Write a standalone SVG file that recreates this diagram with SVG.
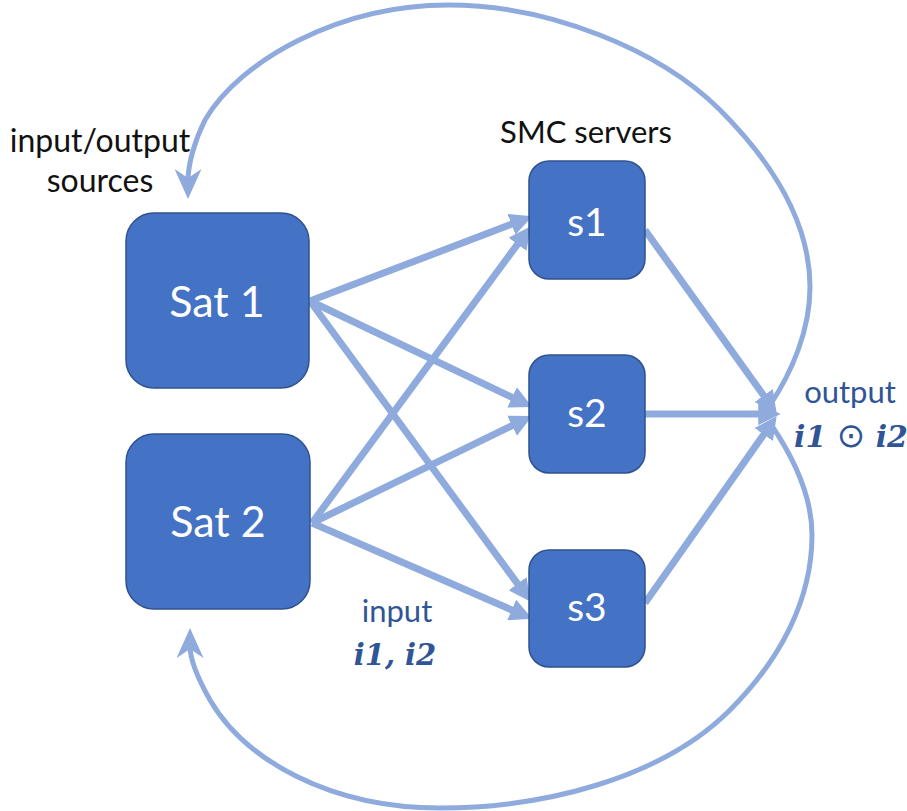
<svg xmlns="http://www.w3.org/2000/svg" width="907" height="811" viewBox="0 0 907 811">
  <style>
    .box { fill: #4472C4; stroke: #2F528F; stroke-width: 1.5; }
    .node-label { font-family: Lato, "Open Sans", sans-serif; fill: #FFFFFF; text-anchor: middle; }
    .caption { font-family: Lato, "Open Sans", sans-serif; fill: #111111; text-anchor: middle; }
    .blue-caption { font-family: Lato, "Open Sans", sans-serif; fill: #2F5597; text-anchor: middle; }
    .math { font-family: "DejaVu Serif", "Liberation Serif", serif; font-weight: bold; font-style: italic; fill: #2F5597; text-anchor: middle; }
    .op { font-family: "DejaVu Sans", sans-serif; font-weight: normal; font-style: normal; }
    .link { fill: none; stroke: #8FAADC; stroke-width: 7; }
    .loop { fill: none; stroke: #8FAADC; stroke-width: 5; }
  </style>
  <defs>
    <marker id="head" viewBox="0 0 10 10" refX="4" refY="5" markerWidth="3.2" markerHeight="3.2" markerUnits="strokeWidth" orient="auto">
      <path d="M0,0 L10,5 L0,10 z" fill="#8FAADC"/>
    </marker>
    <marker id="loop-head" viewBox="0 0 30 27" refX="12" refY="13.5" markerWidth="30" markerHeight="27" markerUnits="userSpaceOnUse" orient="auto">
      <path d="M0,0 L30,13.5 L0,27 L9,13.5 z" fill="#8FAADC"/>
    </marker>
  </defs>

  <!-- connectors -->
  <g id="connectors">
    <!-- Sat 1 to servers -->
    <line class="link" x1="310" y1="301" x2="519.8" y2="221.1" marker-end="url(#head)"/>
    <line class="link" x1="310" y1="301" x2="520.1" y2="401.2" marker-end="url(#head)"/>
    <line class="link" x1="310" y1="301" x2="522.8" y2="590.9" marker-end="url(#head)"/>
    <!-- Sat 2 to servers -->
    <line class="link" x1="312" y1="523" x2="522.8" y2="237.1" marker-end="url(#head)"/>
    <line class="link" x1="312" y1="523" x2="520.1" y2="421.8" marker-end="url(#head)"/>
    <line class="link" x1="312" y1="523" x2="519.9" y2="613.5" marker-end="url(#head)"/>
    <!-- servers to output -->
    <line class="link" x1="645" y1="230" x2="768.9" y2="402.8" marker-end="url(#head)"/>
    <line class="link" x1="645" y1="414" x2="767.2" y2="414" marker-end="url(#head)"/>
    <line class="link" x1="645" y1="603" x2="768.9" y2="427.2" marker-end="url(#head)"/>
    <!-- output fed back to Sat 1 (over the top) -->
    <path class="loop" d="M 770 405 C 792 372, 810 330, 810 287 C 810 230, 780 170, 720 110 C 660 50, 550 5, 448 5 C 340 5, 240 60, 205 120 C 194 142, 188 165, 188 181" marker-end="url(#loop-head)"/>
    <!-- output fed back to Sat 2 (under the bottom) -->
    <path class="loop" d="M 770 423 C 792 455, 812 495, 812 535 C 812 600, 780 660, 730 710 C 660 780, 540 808, 440 808 C 330 808, 245 760, 210 700 C 197 677, 190 660, 190 646" marker-end="url(#loop-head)"/>
  </g>

  <!-- satellites -->
  <g id="sat1">
    <rect class="box" x="126" y="213" width="183" height="175" rx="28" ry="28"/>
    <text class="node-label" x="217" y="317" font-size="43">Sat 1</text>
  </g>
  <g id="sat2">
    <rect class="box" x="126" y="434" width="184" height="175" rx="28" ry="28"/>
    <text class="node-label" x="218" y="537" font-size="43">Sat 2</text>
  </g>

  <!-- SMC servers -->
  <g id="s1">
    <rect class="box" x="529" y="161" width="116" height="118" rx="20" ry="20"/>
    <text class="node-label" x="587" y="236" font-size="39">s1</text>
  </g>
  <g id="s2">
    <rect class="box" x="529" y="355" width="116" height="118" rx="20" ry="20"/>
    <text class="node-label" x="587" y="427" font-size="39">s2</text>
  </g>
  <g id="s3">
    <rect class="box" x="529" y="550" width="116" height="117" rx="20" ry="20"/>
    <text class="node-label" x="587" y="621" font-size="39">s3</text>
  </g>

  <!-- captions -->
  <g id="captions">
    <text class="caption" x="100" y="152" font-size="32">input/output</text>
    <text class="caption" x="100" y="192" font-size="32">sources</text>
    <text class="caption" x="586" y="143" font-size="31">SMC servers</text>
    <text class="blue-caption" x="850" y="403" font-size="31">output</text>
    <text class="math" x="851" y="447" font-size="30">i1 <tspan class="op" font-size="34">⊙</tspan> i2</text>
    <text class="blue-caption" x="397" y="622" font-size="31">input</text>
    <text class="math" x="395" y="665" font-size="29">i1, i2</text>
  </g>
</svg>
